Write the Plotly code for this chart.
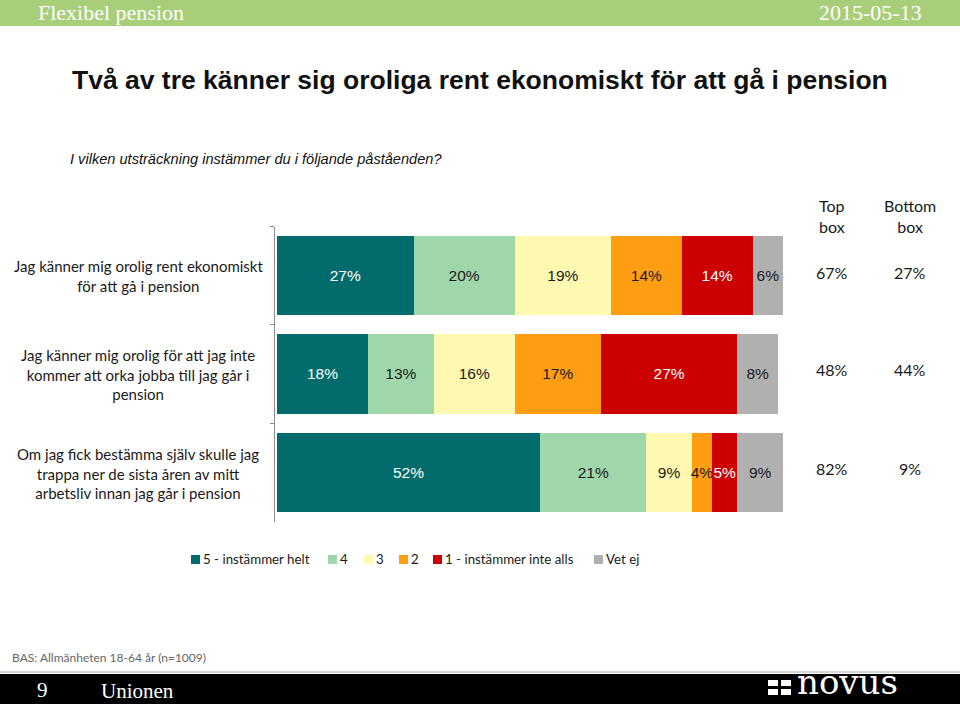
import plotly.graph_objects as go

# ---------------- data ----------------
statements = [
    "Jag känner mig orolig rent ekonomiskt<br>för att gå i pension",
    "Jag känner mig orolig för att jag inte<br>kommer att orka jobba till jag går i<br>pension",
    "Om jag fick bestämma själv skulle jag<br>trappa ner de sista åren av mitt<br>arbetsliv innan jag går i pension",
]
categories = ["S1", "S2", "S3"]
series_names = ["5 - instämmer helt", "4", "3", "2", "1 - instämmer inte alls", "Vet ej"]
values_5 = [27, 18, 52]
values_4 = [20, 13, 21]
values_3 = [19, 16, 9]
values_2 = [14, 17, 4]
values_1 = [14, 27, 5]
values_vetej = [6, 8, 9]
top_box = [67, 48, 82]
bottom_box = [27, 44, 9]

series_values = [values_5, values_4, values_3, values_2, values_1, values_vetej]
colors = ["#016C6B", "#9FD7AA", "#FFF8B0", "#FF9E12", "#CC0000", "#B0B0B0"]
text_colors = ["white", "#1a1a1a", "#1a1a1a", "#1a1a1a", "white", "#1a1a1a"]

W, H = 960, 704
def px(x):
    return x / W
def py(y):
    return 1 - y / H

fig = go.Figure()
for name, vals, col, tcol in zip(series_names, series_values, colors, text_colors):
    fig.add_trace(go.Bar(
        y=categories, x=vals, name=name, orientation="h",
        marker=dict(color=col, line=dict(width=0)),
        text=[f"{v}%" for v in vals], texttemplate="%{text}",
        textposition="inside", insidetextanchor="middle", textangle=0,
        textfont=dict(family="Liberation Sans, Arial", size=15.5, color=tcol),
        constraintext="none", showlegend=False, hoverinfo="skip",
    ))

cat_font = "Lato, Open Sans, sans-serif"
annotations = []
shapes = []

# header band
shapes.append(dict(type="rect", xref="paper", yref="paper", x0=0, x1=1, y0=py(26), y1=1,
                   fillcolor="#A9CE7A", line=dict(width=0), layer="below"))
annotations.append(dict(text="Flexibel pension", x=px(36), y=py(12), xref="paper", yref="paper",
                        xanchor="left", yanchor="middle", showarrow=False,
                        font=dict(family="Liberation Serif, serif", size=22, color="white")))
annotations.append(dict(text="2015-05-13", x=px(924), y=py(12), xref="paper", yref="paper",
                        xanchor="right", yanchor="middle", showarrow=False,
                        font=dict(family="Liberation Serif, serif", size=22, color="white")))

# title & subtitle
annotations.append(dict(text="<b>Två av tre känner sig oroliga rent ekonomiskt för att gå i pension</b>",
                        x=px(480), y=py(80), xref="paper", yref="paper", xanchor="center", yanchor="middle",
                        showarrow=False, font=dict(family="Liberation Sans, Arial", size=26.5, color="#111111")))
annotations.append(dict(text="<i>I vilken utsträckning instämmer du i följande påståenden?</i>",
                        x=px(68), y=py(159), xref="paper", yref="paper", xanchor="left", yanchor="middle",
                        showarrow=False, font=dict(family="Liberation Sans, Arial", size=14.6, color="#111111")))

# statement labels
label_y = [276, 374, 473]
for s, yy in zip(statements, label_y):
    annotations.append(dict(text=s, x=px(138), y=py(yy), xref="paper", yref="paper",
                            xanchor="center", yanchor="middle", align="center", showarrow=False,
                            font=dict(family=cat_font, size=15, color="#1a1a1a")))

# top / bottom box
for hdr, xx in [("Top<br>box", 832), ("Bottom<br>box", 910)]:
    annotations.append(dict(text=hdr, x=px(xx), y=py(216), xref="paper", yref="paper",
                            xanchor="center", yanchor="middle", align="center", showarrow=False,
                            font=dict(family=cat_font, size=16, color="#1a1a1a")))
for tb, bb, yy in zip(top_box, bottom_box, label_y):
    annotations.append(dict(text=f"{tb}%", x=px(832), y=py(yy - 4), xref="paper", yref="paper",
                            xanchor="center", yanchor="middle", showarrow=False,
                            font=dict(family=cat_font, size=16, color="#1a1a1a")))
    annotations.append(dict(text=f"{bb}%", x=px(910), y=py(yy - 4), xref="paper", yref="paper",
                            xanchor="center", yanchor="middle", showarrow=False,
                            font=dict(family=cat_font, size=16, color="#1a1a1a")))

# custom legend
legend_x = [191, 328, 364, 399, 433, 594]
for name, col, lx in zip(series_names, colors, legend_x):
    shapes.append(dict(type="rect", xref="paper", yref="paper", x0=px(lx), x1=px(lx + 9),
                       y0=py(564), y1=py(555), fillcolor=col, line=dict(width=0)))
    annotations.append(dict(text=name, x=px(lx + 10), y=py(559), xref="paper", yref="paper",
                            xanchor="left", yanchor="middle", showarrow=False,
                            font=dict(family=cat_font, size=13.3, color="#1a1a1a")))

# base note
annotations.append(dict(text="BAS: Allmänheten 18-64 år (n=1009)", x=px(10), y=py(657), xref="paper", yref="paper",
                        xanchor="left", yanchor="middle", showarrow=False,
                        font=dict(family=cat_font, size=12, color="#666666")))

# footer
shapes.append(dict(type="line", xref="paper", yref="paper", x0=0, x1=1, y0=py(672), y1=py(672),
                   line=dict(color="#AAAAAA", width=1)))
shapes.append(dict(type="rect", xref="paper", yref="paper", x0=0, x1=1, y0=0, y1=py(674),
                   fillcolor="black", line=dict(width=0)))
annotations.append(dict(text="9", x=px(35), y=py(690), xref="paper", yref="paper",
                        xanchor="left", yanchor="middle", showarrow=False,
                        font=dict(family="Liberation Serif, serif", size=21, color="white")))
annotations.append(dict(text="Unionen", x=px(99), y=py(691), xref="paper", yref="paper",
                        xanchor="left", yanchor="middle", showarrow=False,
                        font=dict(family="Liberation Serif, serif", size=21, color="white")))
# novus logo
for (sx, sy) in [(768, 680), (781, 680), (768, 689), (781, 689)]:
    shapes.append(dict(type="rect", xref="paper", yref="paper", x0=px(sx), x1=px(sx + 10),
                       y0=py(sy + 6), y1=py(sy), fillcolor="white", line=dict(width=0)))
annotations.append(dict(text="novus", x=px(795), y=py(704), xref="paper", yref="paper",
                        xanchor="left", yanchor="bottom", showarrow=False,
                        font=dict(family="DejaVu Serif, serif", size=34, color="white")))

fig.update_layout(
    width=W, height=H, barmode="stack", bargap=0.19,
    margin=dict(l=0, r=0, t=0, b=0),
    paper_bgcolor="white", plot_bgcolor="white",
    showlegend=False,
    uniformtext=dict(minsize=15.5, mode="show"),
    xaxis=dict(domain=[px(275), px(783)], range=[-0.4, 100], visible=False, fixedrange=True),
    yaxis=dict(domain=[py(521.5), py(226.5)], categoryorder="array", categoryarray=categories,
               autorange="reversed", showticklabels=False, showline=True, linecolor="#8C8C8C",
               linewidth=1, ticks="outside", ticklen=4, tickcolor="#8C8C8C", tickson="boundaries",
               showgrid=False, zeroline=False, fixedrange=True),
    annotations=annotations, shapes=shapes,
)

fig.write_html("out.html", config={"displayModeBar": False},
               post_script="document.body.style.margin='0';document.body.style.padding='0';document.body.style.overflow='hidden';")
